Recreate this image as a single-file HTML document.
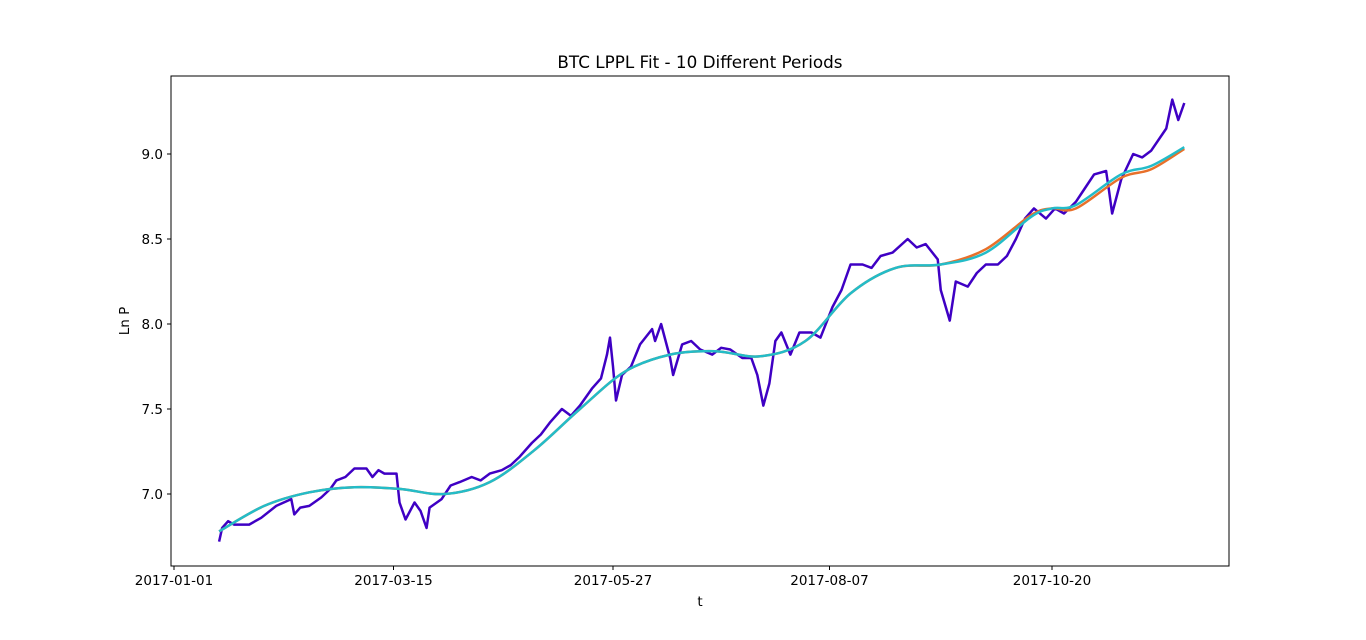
<!DOCTYPE html>
<html><head><meta charset="utf-8"><style>
body{margin:0;background:#fff;font-family:"DejaVu Sans","Liberation Sans",sans-serif;}
svg text{font-family:"DejaVu Sans","Liberation Sans",sans-serif;}
</style></head><body>
<svg id="chart" width="1366" height="636" xmlns="http://www.w3.org/2000/svg">
<rect width="1366" height="636" fill="#fff"/>
<text x="700" y="68" text-anchor="middle" font-size="16.8">BTC LPPL Fit - 10 Different Periods</text>
<text x="700" y="606" text-anchor="middle" font-size="13.5">t</text>
<text transform="translate(129,321) rotate(-90)" text-anchor="middle" font-size="13.5">Ln P</text>
<g id="plot"></g>
<rect x="171" y="76" width="1058" height="490" fill="none" stroke="#000" stroke-width="1"/>
</svg>
<script>
const xTickLabels=["2017-01-01","2017-03-15","2017-05-27","2017-08-07","2017-10-20"];
const xTickDays=[0,73,146,218,292];
const yTicks=[7.0,7.5,8.0,8.5,9.0];
const priceDays=[15,16,18,20,25,29,34,39,40,42,45,49,52,54,57,60,64,66,68,70,74,75,77,80,82,84,85,89,92,95,99,102,105,109,112,115,119,122,125,129,132,135,139,142,144,145,146,147,149,152,155,159,160,162,165,166,169,172,175,179,182,185,189,192,194,196,198,200,202,205,208,212,215,219,222,225,229,232,235,239,244,247,250,254,255,258,260,264,267,270,274,277,280,283,286,290,293,296,300,303,306,310,311,312,315,319,322,325,330,332,334,336];
const priceVals=[6.72,6.80,6.84,6.82,6.82,6.86,6.93,6.97,6.88,6.92,6.93,6.98,7.03,7.08,7.10,7.15,7.15,7.10,7.14,7.12,7.12,6.95,6.85,6.95,6.90,6.80,6.92,6.97,7.05,7.07,7.10,7.08,7.12,7.14,7.17,7.22,7.30,7.35,7.42,7.50,7.46,7.52,7.62,7.68,7.82,7.92,7.75,7.55,7.70,7.75,7.88,7.97,7.90,8.00,7.80,7.70,7.88,7.90,7.85,7.82,7.86,7.85,7.80,7.80,7.70,7.52,7.65,7.90,7.95,7.82,7.95,7.95,7.92,8.10,8.20,8.35,8.35,8.33,8.40,8.42,8.50,8.45,8.47,8.38,8.20,8.02,8.25,8.22,8.30,8.35,8.35,8.40,8.50,8.62,8.68,8.62,8.68,8.65,8.72,8.80,8.88,8.90,8.78,8.65,8.85,9.00,8.98,9.02,9.15,9.32,9.20,9.30];
const fitDays=[15,30,45,60,75,90,105,120,135,150,165,180,195,210,225,240,255,270,285,292,300,315,325,336];
const fitVals=[6.78,6.93,7.01,7.04,7.03,7.00,7.07,7.26,7.50,7.72,7.82,7.84,7.81,7.90,8.18,8.33,8.35,8.42,8.63,8.68,8.70,8.88,8.93,9.04];
const fitValsB=[6.78,6.93,7.01,7.04,7.03,7.00,7.07,7.26,7.50,7.72,7.82,7.84,7.81,7.90,8.18,8.33,8.35,8.44,8.64,8.68,8.68,8.86,8.91,9.03];
const X=d=>174+d*(1052-174)/292;
const Y=v=>494-(v-7)*170;
const NS="http://www.w3.org/2000/svg";
const plot=document.getElementById('plot');
const svg=document.getElementById('chart');
function mk(t,a,p){const e=document.createElementNS(NS,t);for(const k in a)e.setAttribute(k,a[k]);(p||plot).appendChild(e);return e;}
xTickDays.forEach((d,i)=>{
 const l=mk('line',{x1:X(d),x2:X(d),y1:566,y2:570,stroke:'#000'},svg);
 
 
 const t=mk('text',{x:X(d),y:585,'text-anchor':'middle','font-size':'13.5'},svg);t.textContent=xTickLabels[i];
 
 
});
yTicks.forEach(v=>{
 const l=mk('line',{x1:167,x2:171,y1:Y(v),y2:Y(v),stroke:'#000'},svg);
 
 
 const t=mk('text',{x:163,y:Y(v)+5,'text-anchor':'end','font-size':'13.5'},svg);t.textContent=v.toFixed(1);
 
 
});
function smooth(ds,vs){const p=ds.map((d,i)=>[X(d),Y(vs[i])]);let s='M'+p[0][0]+','+p[0][1];
 for(let i=0;i<p.length-1;i++){const p0=p[i-1]||p[i],p1=p[i],p2=p[i+1],p3=p[i+2]||p2;
  s+=' C'+(p1[0]+(p2[0]-p0[0])/6)+','+(p1[1]+(p2[1]-p0[1])/6)+' '+(p2[0]-(p3[0]-p1[0])/6)+','+(p2[1]-(p3[1]-p1[1])/6)+' '+p2[0]+','+p2[1];}
 return s;}
const pl=mk('polyline',{points:priceDays.map((d,i)=>X(d)+','+Y(priceVals[i])).join(' '),fill:'none',stroke:'#3f00c4','stroke-width':2.5,'stroke-linejoin':'round'});


const f1=mk('path',{d:smooth(fitDays,fitValsB),fill:'none',stroke:'#e8702a','stroke-width':2.5});


const f2=mk('path',{d:smooth(fitDays,fitVals),fill:'none',stroke:'#23bcc8','stroke-width':2.5});


</script>
</body></html>
